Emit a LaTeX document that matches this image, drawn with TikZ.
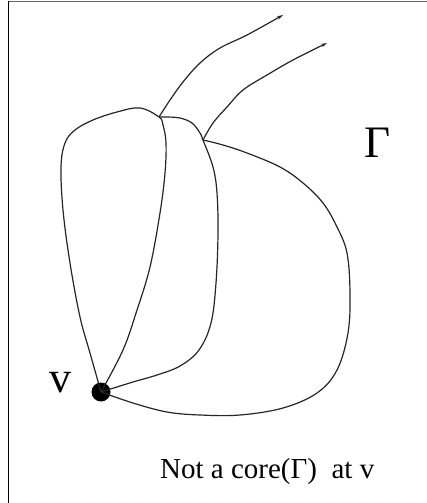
\documentclass[tikz,border=0pt]{standalone}
\usepackage{fontspec}
\setmainfont{Liberation Serif}
\usetikzlibrary{arrows.meta}
\begin{document}
\begin{tikzpicture}[x=1pt,y=-1pt,
  edge/.style={draw=black!85,line width=1.2pt,line join=round},
  whisk/.style={edge,-{Stealth[length=6pt,width=3.5pt]}},
  frame/.style={line width=1.3pt}]
\useasboundingbox (0,0) rectangle (427,503);
\fill[white] (0,0) rectangle (427,503);
% frame (only top and left visible)
\draw[draw=black!60,line width=1pt] (8,2) -- (427,2);
\draw[frame] (8.5,1.5) -- (8.5,503);
% vertices
\node[circle,fill=black,inner sep=0pt,minimum size=19pt] (v) at (101,392) {};
\coordinate (j1) at (159,117);
\coordinate (j2) at (203,140);
\coordinate (e1) at (283,15);
\coordinate (e2) at (327,43);
% left loop
\draw[edge] plot[smooth,tension=0.6] coordinates {(v) (90,353) (80,317) (70,263) (63,210) (61,167) (65,143) (75,130) (93,120) (117,112) (140,108) (j1) (163,125) (166,143) (165,173) (160,213) (150,267) (137,310) (123,350) (v)};
% curve 2
\draw[edge] plot[smooth,tension=0.6] coordinates {(v) (133,382) (157,375) (180,366) (199,350) (211,323) (216,283) (218,233) (217,193) (213,167) (j2) (200,133) (192,123) (180,118) (167,117) (j1)};
% curve 3
\draw[edge] plot[smooth,tension=0.6] coordinates {(v) (133,403) (167,412) (200,415) (240,415) (283,408) (317,393) (337,370) (348,333) (350,293) (347,253) (337,227) (323,203) (303,183) (280,167) (247,153) (223,145) (j2)};
% whiskers
\draw[whisk] plot[smooth,tension=0.6] coordinates {(j1) (170,100) (183,82) (200,63) (220,48) (247,35) (e1)};
\draw[whisk] plot[smooth,tension=0.6] coordinates {(j2) (213,123) (227,107) (243,90) (267,75) (293,60) (e2)};
% labels
\node[font=\fontsize{45}{48}\selectfont,inner sep=0pt] (gamma) at (378,143) {Γ};
\node[font=\fontsize{44}{48}\selectfont,inner sep=0pt] (vl) at (60,383) {v};
\node[font=\fontsize{29}{32}\selectfont,inner sep=0pt,anchor=base west] (cap) at (160,478) {Not a core(Γ)\ \ at v};
\end{tikzpicture}
\end{document}
